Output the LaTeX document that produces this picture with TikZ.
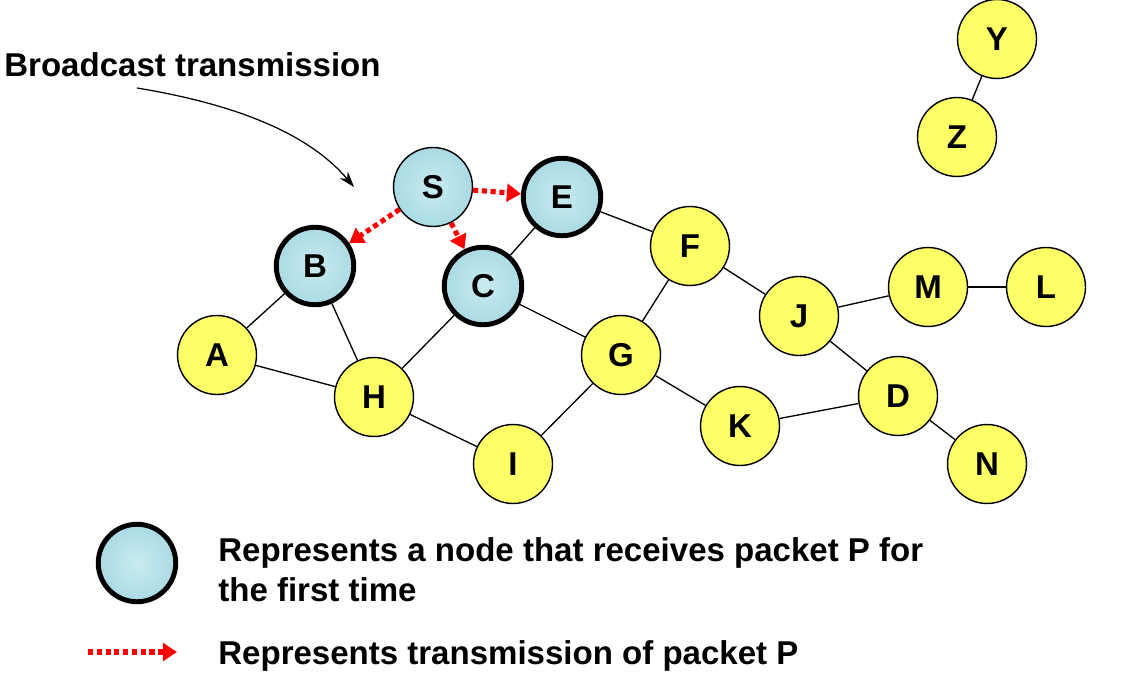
\documentclass[tikz,border=0pt]{standalone}
\usepackage{fontspec}
\setmainfont{Liberation Sans}
\usetikzlibrary{arrows.meta}
\definecolor{nodeyellow}{RGB}{255,255,102}
\definecolor{nodeblue}{RGB}{170,218,228}
\definecolor{nodeblueL}{RGB}{200,236,240}
\definecolor{arrred}{RGB}{255,0,0}
\begin{document}
\begin{tikzpicture}[x=0.02cm,y=-0.02cm,
  lbl/.style={font=\fontsize{18.8}{22}\selectfont\bfseries},
  ynode/.style={circle,draw=black,line width=0.8pt,fill=nodeyellow,minimum size=1.58cm,inner sep=0pt,lbl},
  bnode/.style={circle,draw=black,line width=0.8pt,inner color=nodeblueL,outer color=nodeblue,minimum size=1.58cm,inner sep=0pt,lbl},
  fnode/.style={bnode,line width=2.8pt,minimum size=1.55cm},
  link/.style={draw=black,line width=0.75pt},
  tx/.style={draw=arrred,line width=2.9pt,dash pattern=on 2.9pt off 2.1pt,-{Triangle[length=8pt,width=10pt]}},
  note/.style={lbl,anchor=base west,inner sep=0pt}
]
\useasboundingbox (0,0) rectangle (1125,675);

% title and pointer
\node[note] (title) at (4,77) {Broadcast transmission};
\coordinate (ptS) at (137,88);
\coordinate (ptE) at (354,187);
\draw[line width=0.7pt,-{Stealth[length=9pt,width=6pt]}] (ptS) .. controls (240,105) and (310,135) .. (ptE);

% nodes
\node[bnode] (S) at (433,187) {S};
\node[fnode] (E) at (562,197) {E};
\node[fnode] (B) at (315,266) {B};
\node[fnode] (C) at (483,286) {C};
\node[ynode] (F) at (690,246) {F};
\node[ynode] (A) at (217,355) {A};
\node[ynode] (H) at (374,397) {H};
\node[ynode] (G) at (621,355) {G};
\node[ynode] (I) at (513,464) {I};
\node[ynode] (J) at (799,316) {J};
\node[ynode] (M) at (928,287) {M};
\node[ynode] (L) at (1046,287) {L};
\node[ynode] (D) at (898,396) {D};
\node[ynode] (K) at (740,426) {K};
\node[ynode] (N) at (987,464) {N};
\node[ynode] (Y) at (997,39) {Y};
\node[ynode] (Z) at (957,137) {Z};

% links
\foreach \a/\b in {E/C,E/F,B/A,B/H,C/H,C/G,F/G,F/J,J/M,M/L,J/D,D/K,D/N,G/K,G/I,A/H,H/I,Y/Z}
  \draw[link] (\a) -- (\b);

% transmissions
\draw[tx] (S) -- (E);
\draw[tx] (S) -- (B);
\draw[tx] (S) -- (C);

% legend
\node[fnode] (legnode) at (137,563) {};
\node[note] (leg1) at (218,561) {Represents a node that receives packet P for};
\node[note] (leg2) at (218,601) {the first time};
\coordinate (legA) at (88,652);
\coordinate (legB) at (177,652);
\draw[tx] (legA) -- (legB);
\node[note] (leg3) at (218,664) {Represents transmission of packet P};
\end{tikzpicture}
\end{document}
